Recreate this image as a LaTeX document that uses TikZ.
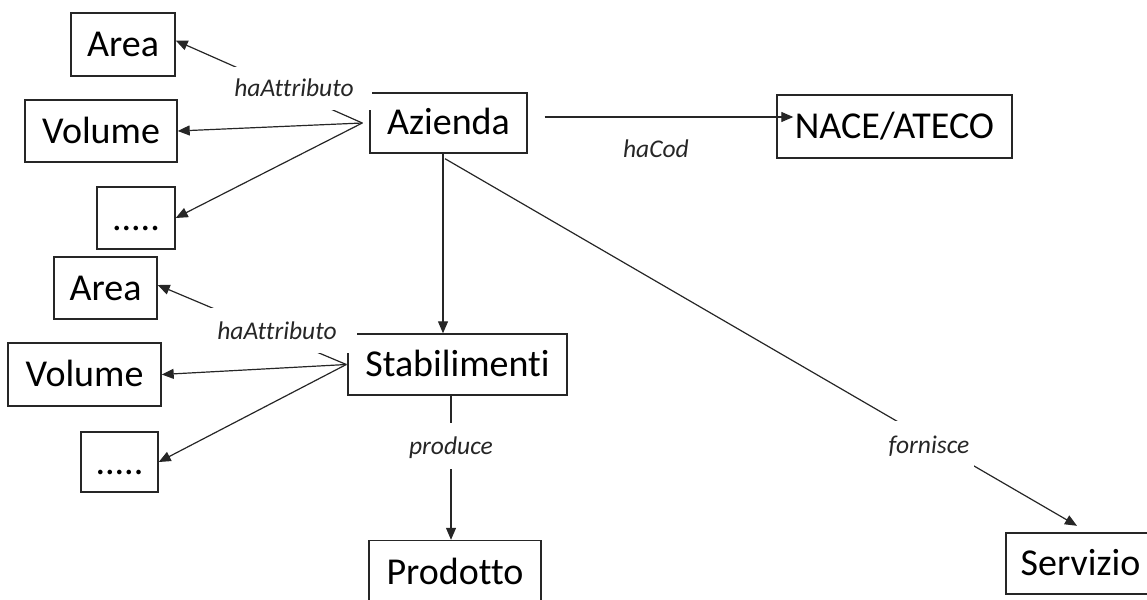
\documentclass[tikz,border=0pt]{standalone}
\usepackage{fontspec}
\setmainfont{Carlito}[Ligatures=NoCommon]
\usetikzlibrary{arrows.meta}
\begin{document}
\begin{tikzpicture}[x=1pt,y=-1pt,
  entity/.style={draw=black!85, line width=1.4pt, fill=white, inner sep=0pt,
    font=\fontsize{38}{40}\selectfont, text height=24pt, text depth=0pt},
  rel/.style={inner sep=0pt, font=\fontsize{25.5}{27}\selectfont\itshape,
    text height=17pt, text depth=0pt, text=black!85},
  relmask/.style={rel, fill=white},
  link/.style={draw=black!85, line width=1.2pt},
  arrow/.style={link, -{Triangle[length=12pt,width=10pt]}}]
\useasboundingbox (0,0) rectangle (1147,599);
\clip (0,0) rectangle (1147,599);

% entities
\node[entity, minimum width=104, minimum height=63] (a1) at (123,44.5) {Area};
\node[entity, minimum width=152, minimum height=62] (v1) at (101,131) {Volume};
\node[entity, minimum width=78,  minimum height=62] (d1) at (136,218) {.....};
\node[entity, minimum width=157, minimum height=60] (az) at (448.5,123) {Azienda};
\node[entity, minimum width=235, minimum height=63] (na) at (894.5,126.5) {NACE/ATECO};
\node[entity, minimum width=103, minimum height=62] (a2) at (105.5,288) {Area};
\node[entity, minimum width=153, minimum height=63] (v2) at (84.5,374.5) {Volume};
\node[entity, minimum width=77,  minimum height=60] (d2) at (119.5,462) {.....};
\node[entity, minimum width=219, minimum height=61] (st) at (457.5,364.5) {Stabilimenti};
\node[entity, minimum width=172, minimum height=63] (pr) at (455,572) {Prodotto};
\node[entity, minimum width=149, minimum height=61] (se) at (1080.5,563.5) {Servizio};

% fan points of the attribute links
\coordinate (f1) at ([xshift=-7pt]az.west);
\coordinate (f2) at ([xshift=-1pt]st.west);

% attribute links
\draw[arrow] (f1) -- ([yshift=4pt]a1.east);
\draw[arrow] (f1) -- (v1.east);
\draw[arrow] (f1) -- (d1.east);
\draw[arrow] (f2) -- ([yshift=3pt]a2.east);
\draw[arrow] (f2) -- (v2.east);
\draw[arrow] (f2) -- (d2.east);

% relations
\draw[arrow] ([xshift=-5.5pt]az.south) -- ([xshift=-5.5pt]az.south |- st.north);
\draw[arrow] ([xshift=-6.5pt]st.south) -- ([xshift=-6.5pt]st.south |- pr.north);
\draw[arrow] ([xshift=17pt,yshift=6pt]az.east) -- ([xshift=17pt,yshift=6pt]az.east -| na.west);
\draw[arrow] ([xshift=-3.5pt,yshift=-5pt]az.south) -- ([xshift=-3.5pt,yshift=6.5pt]se.north);

% relation labels
\node[relmask, minimum width=156, minimum height=43] (lattr1) at (294,88.5) {haAttributo};
\node[relmask, minimum width=160, minimum height=45] (lattr2) at (277,330.5) {haAttributo};
\node[relmask, minimum width=92, minimum height=46] (lprod) at (451,446) {produce};
\node[relmask, minimum width=90, minimum height=48] (lforn) at (929,444.5) {fornisce};
\node[rel] (lcod) at (656,148.5) {haCod};
\end{tikzpicture}
\end{document}
